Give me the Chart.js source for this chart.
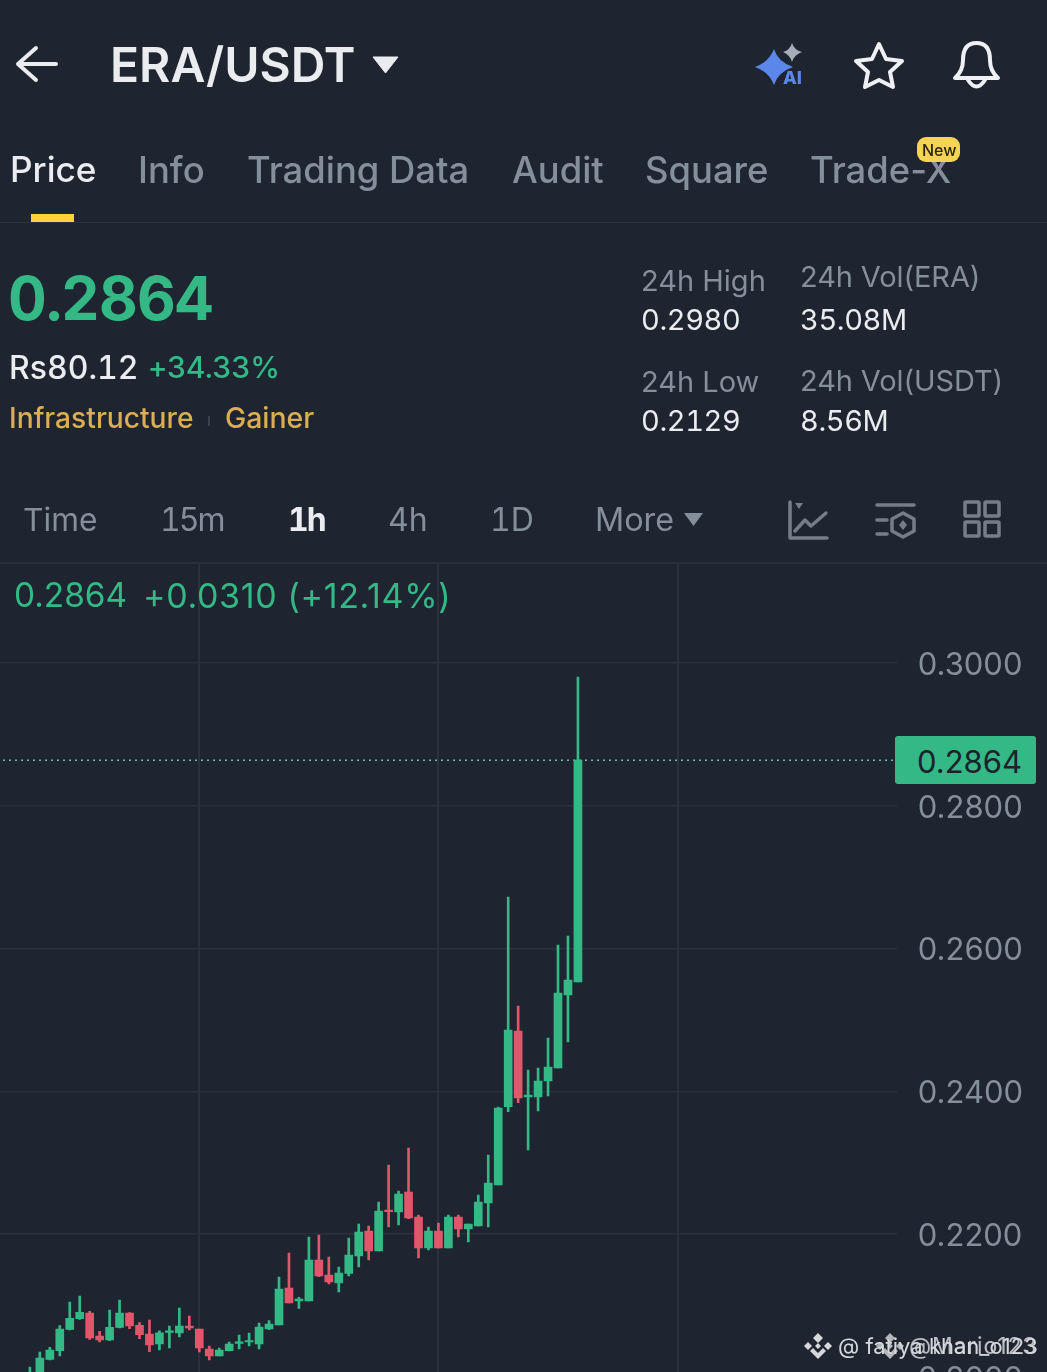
<!DOCTYPE html>
<html><head><meta charset="utf-8">
<script src="https://cdn.jsdelivr.net/npm/chart.js@4/dist/chart.umd.min.js"></script>
<style>
html,body{margin:0;padding:0;background:#1e2530;width:1047px;height:1372px;overflow:hidden}
#app{position:relative;width:1047px;height:1372px;overflow:hidden;font-family:Inter,"Noto Sans",sans-serif;background:#1e2530}
canvas{position:absolute;left:0;top:0}
.t{position:absolute;white-space:nowrap;line-height:1;transform:translateY(-50%)}
.n{font-variant-numeric:tabular-nums}
.g{color:#858e9b}.w{color:#eaecef}.u{color:#33b886}.o{color:#dcae52}
svg{position:absolute;overflow:visible}
.line{position:absolute;background:#2b313b}
</style></head><body><div id="app">
<canvas id="c" width="1047" height="1500" style="width:1047px;height:1500px"></canvas>

<div class="line" style="left:0;top:222px;width:1047px;height:1px"></div>
<div class="line" style="left:0;top:562px;width:1047px;height:2px"></div>

<svg style="left:0;top:0" width="1047" height="560" fill="none">
 <path d="M56 64H19M36 48L18 64L36 80" stroke="#eaecef" stroke-width="4" stroke-linecap="round" stroke-linejoin="round"/>
 <path d="M373 57H398L385.500 73Z" fill="#eaecef" stroke="#eaecef" stroke-width="1" stroke-linejoin="round"/>
 <path d="M774 49Q778 62 793 67Q778 72 774 85Q769 72 755 67Q769 62 774 49Z" fill="#5b86ea"/>
 <path d="M792 43Q794 50 802 52Q794 55 792 62Q790 55 783 52Q790 50 792 43Z" fill="#a6adbb"/>
 <path d="M879 44L886 59L902 61L890 72L893 87L879 80L865 87L868 72L856 61L872 59Z" stroke="#eef0f4" stroke-width="4" stroke-linejoin="round"/>
 <path d="M955 78Q963 71 963 60Q963 43 976.500 43Q990 43 990 60Q990 71 998 78Z" stroke="#eef0f4" stroke-width="4" stroke-linejoin="round"/>
 <path d="M968 80Q976.500 93 985 80" stroke="#eef0f4" stroke-width="4" stroke-linecap="round"/>
 <rect x="31" y="214" width="43" height="8" fill="#f7d33f"/>
 <rect x="208" y="416" width="2" height="10" fill="#3c434e"/>
 <path d="M684 513H703L693.500 526Z" fill="#858e9b"/>
 <g stroke="#757d89" stroke-width="3.500" stroke-linecap="round" stroke-linejoin="round">
  <path d="M790 502V538H827"/><path d="M795 531L805 520L811 526L826 513"/>
  <path d="M877 505H914M877 520H887M877 534H887"/>
  <path d="M903 513L914 519V531L903 537L892 531V519Z"/>
  <rect x="965" y="502" width="14" height="14" rx="1"/><rect x="985" y="502" width="14" height="14" rx="1"/>
  <rect x="965" y="522" width="14" height="14" rx="1"/><rect x="985" y="522" width="14" height="14" rx="1"/>
 </g>
 <path d="M795 503L803 503L799 509Z" fill="#757d89"/>
 <path d="M903 520L907 525L903 530L899 525Z" fill="#757d89"/>
</svg>
<div class="t" style="left:783px;top:78px;font-size:18px;font-weight:800;color:#5b86ea">AI</div>

<div class="t w" style="left:110px;top:65px;font-size:48px;font-weight:600">ERA/USDT</div>
<div class="t w" style="left:10px;top:169.500px;font-size:35.200px;font-weight:500">Price</div>
<div class="t g" style="left:138px;top:169.500px;font-size:36.400px;font-weight:500">Info</div>
<div class="t g" style="left:247px;top:169.500px;font-size:36.400px;font-weight:500">Trading Data</div>
<div class="t g" style="left:512px;top:169.500px;font-size:36.400px;font-weight:500">Audit</div>
<div class="t g" style="left:645px;top:169.500px;font-size:36.400px;font-weight:500">Square</div>
<div class="t g" style="left:810px;top:169.500px;font-size:36.400px;font-weight:500">Trade-X</div>
<svg style="left:0;top:0" width="1047" height="200"><rect x="917" y="137" width="43" height="25" rx="9" fill="#f7d354"/></svg>
<div class="t" style="left:922px;top:150px;font-size:16px;font-weight:500;color:#2a2418">New</div>

<div class="t u n" style="left:8px;top:298px;font-size:60px;font-weight:700;letter-spacing:-.9px">0.2864</div>
<div class="t w n" style="left:9px;top:368px;font-size:32px;font-weight:500">Rs80.12</div>
<div class="t u n" style="left:148px;top:367px;font-size:30px;font-weight:500;letter-spacing:-.5px">+34.33%</div>
<div class="t o" style="left:9px;top:418px;font-size:28.200px;font-weight:500">Infrastructure</div>
<div class="t o" style="left:225px;top:418px;font-size:28.400px;font-weight:500">Gainer</div>

<div class="t g" style="left:641px;top:280px;font-size:29px">24h High</div>
<div class="t w n" style="left:641px;top:319px;font-size:29px;letter-spacing:-.4px">0.2980</div>
<div class="t g" style="left:800px;top:276px;font-size:29px;letter-spacing:-.1px">24h Vol(ERA)</div>
<div class="t w n" style="left:800px;top:319px;font-size:29px;letter-spacing:-.4px">35.08M</div>
<div class="t g" style="left:641px;top:381px;font-size:29px">24h Low</div>
<div class="t w n" style="left:641px;top:420px;font-size:29px;letter-spacing:-.4px">0.2129</div>
<div class="t g" style="left:800px;top:380px;font-size:29px;letter-spacing:-.1px">24h Vol(USDT)</div>
<div class="t w n" style="left:800px;top:420px;font-size:29px;letter-spacing:-.4px">8.56M</div>

<div class="t g" style="left:23px;top:520px;font-size:31.700px">Time</div>
<div class="t g n" style="left:160px;top:520px;font-size:32px;letter-spacing:-2px">15m</div>
<div class="t w n" style="left:288px;top:520px;font-size:32px;font-weight:700;letter-spacing:-2px">1h</div>
<div class="t g" style="left:388px;top:520px;font-size:32px">4h</div>
<div class="t g n" style="left:490px;top:520px;font-size:32px">1D</div>
<div class="t g" style="left:595px;top:520px;font-size:32.300px">More</div>

<div class="t u" style="left:14px;top:596px;font-size:33.400px">0.2864</div>
<div class="t u" style="left:143px;top:596px;font-size:34px;letter-spacing:.65px">+0.0310 (+12.14%)</div>

<div style="position:absolute;left:895px;top:736px;width:141px;height:48px;background:#33b886;border-radius:3px"></div>
<div class="t" style="left:917px;top:761px;font-size:31px;color:#1c222b">0.2864</div>

<svg style="left:0;top:0" width="1047" height="1372" fill="#d6d8dc">
 <path d="M818 1333l5 5-5 5-5-5zM808 1342l4 4-4 4-4-4zM828 1342l4 4-4 4-4-4zM818 1343l3 3-3 3-3-3zM818 1359l-8-8 3-3 5 5 5-5 3 3z"/>
 <path d="M890 1333l5 5-5 5-5-5zM880 1342l4 4-4 4-4-4zM900 1342l4 4-4 4-4-4zM890 1343l3 3-3 3-3-3zM890 1359l-8-8 3-3 5 5 5-5 3 3z" opacity=".8"/>
</svg>
<div class="t" style="left:838px;top:1346px;font-size:22px;color:#d6d8dc">@ fatiya khan_o123</div>
<div class="t" style="left:909px;top:1346px;font-size:23px;letter-spacing:.8px;color:#d6d8dc;opacity:.85">@Mario123</div>
</div>
<script>
const yTickValues = [0.30, 0.28, 0.26, 0.24, 0.22, 0.20];
const lastPrice = 0.2864;
const highs = [.20140,.20350,.20416,.20719,.21050,.21134,.20920,.20640,.20938,.21078,.20901,.20761,.20798,.20648,.20714,.20966,.20854,.20672,.20434,.20406,.20490,.20588,.20616,.20756,.20789,.21401,.21737,.21116,.21961,.21989,.21681,.21541,.21947,.22143,.22115,.22451,.22969,.22605,.23207,.22269,.22101,.22157,.22269,.22269,.22143,.22549,.23109,.23782,.26723,.25196,.24300,.24328,.24748,.26051,.26177,.29804];
const lows = [.19930,.19986,.20238,.20294,.20658,.20808,.20528,.20490,.20508,.20686,.20676,.20536,.20354,.20378,.20406,.20560,.20658,.20350,.20238,.20294,.20364,.20392,.20434,.20392,.20662,.20728,.21036,.20962,.21064,.21405,.21303,.21191,.21415,.21541,.21639,.21765,.22101,.22129,.22217,.21667,.21779,.21807,.21807,.21961,.21891,.22115,.22101,.22689,.23716,.23842,.23179,.23726,.23936,.24328,.24692,.25532];
const opens = [.19958,.20028,.20248,.20368,.20668,.20817,.20896,.20574,.20518,.20696,.20896,.20724,.20602,.20462,.20626,.20616,.20714,.20672,.20392,.20294,.20368,.20472,.20490,.20462,.20672,.20728,.21247,.21064,.21064,.21639,.21429,.21317,.21452,.21695,.22045,.21765,.22339,.22311,.22591,.22241,.21807,.22045,.21807,.22241,.22073,.22115,.22437,.22689,.23786,.24846,.23922,.23922,.24146,.24328,.25350,.25532];
const closes = [.20056,.20266,.20378,.20672,.20822,.20906,.20546,.20518,.20696,.20896,.20714,.20592,.20448,.20620,.20644,.20714,.20686,.20406,.20294,.20378,.20462,.20490,.20508,.20700,.20742,.21233,.21036,.21092,.21639,.21415,.21331,.21457,.21709,.22031,.21765,.22325,.22315,.22563,.22227,.21807,.22045,.21807,.22241,.22073,.22143,.22451,.22717,.23768,.24860,.23908,.23950,.24146,.24342,.25378,.25560,.28642];
const leadingSlots = 3, totalSlots = 91;
const hourLines = [20, 44, 68];
const UP = '#33b886', DOWN = '#e2566b', GRID = '#2b313b';

const labels = Array.from({length: totalSlots}, (_, i) => 'c' + i);
const pad = a => Array(leadingSlots).fill(null).concat(a);
const wicks = pad(highs.map((h, i) => [lows[i], h]));
const bodies = pad(opens.map((o, i) => [o, closes[i]]));
const colorOf = ctx => {
  const v = ctx.raw; if (!v) return UP;
  return v[1] >= v[0] ? UP : DOWN;
};
const wickColor = ctx => {
  const i = ctx.dataIndex - leadingSlots;
  return closes[i] >= opens[i] ? UP : DOWN;
};
new Chart(document.getElementById('c'), {
  type: 'bar',
  data: { labels, datasets: [
    { type:'line', data: labels.map(() => lastPrice), borderColor:'#74b8a4', borderWidth: 1.5, borderDash:[2,4], borderDashOffset:-3, pointRadius:0, order:3 },
    { data: wicks, backgroundColor: wickColor, barThickness: 2, grouped:false, order:2 },
    { data: bodies, backgroundColor: colorOf, barThickness: 8, grouped:false, minBarLength:1.5, order:1 }
  ]},
  options: {
    responsive:false, animation:false, devicePixelRatio:1,
    layout:{ padding:{ top:563, left:0, right:0, bottom:51.6 } },
    plugins:{ legend:{display:false}, tooltip:{enabled:false} },
    scales:{
      x:{ offset:false,
          grid:{ offset:false, drawTicks:false, lineWidth:2, color: c => hourLines.includes(c.index) ? GRID : 'transparent' },
          border:{display:false},
          ticks:{ display:false, autoSkip:false, padding:0 } },
      y:{ position:'right', min:0.19, max:0.31401,
          afterBuildTicks: s => { s.ticks = yTickValues.map(value => ({value})); },
          afterFit: s => { s.width = 150.2; },
          grid:{ drawTicks:false, color:GRID, lineWidth:1.5 },
          border:{display:false},
          ticks:{ color:'#858e9b', padding:21, labelOffset:2.5, crossAlign:'near', font:{ family:'Inter', size:31 }, callback: v => v.toFixed(4) } }
    }
  }
});
</script>
</body></html>
